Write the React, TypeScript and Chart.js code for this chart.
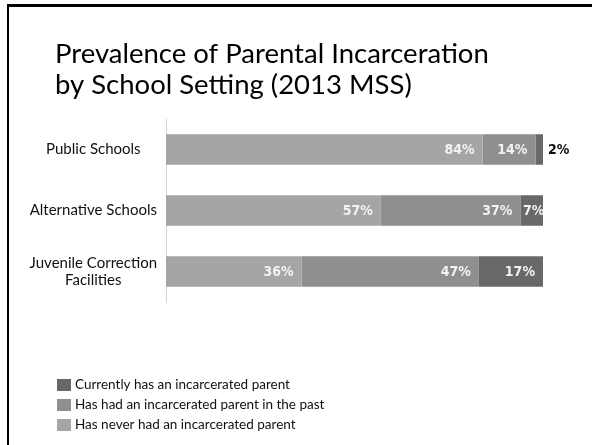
import React, { useEffect, useRef } from "react";
import { Chart, registerables } from "chart.js";

Chart.register(...registerables);

const categories: (string | string[])[] = [
  "Public Schools",
  "Alternative Schools",
  ["Juvenile Correction", "Facilities"],
];
const neverValues = [84, 57, 36];
const pastValues = [14, 37, 47];
const currentValues = [2, 7, 17];
const seriesLabels = [
  "Has never had an incarcerated parent",
  "Has had an incarcerated parent in the past",
  "Currently has an incarcerated parent",
];
const seriesColors = ["#a5a5a5", "#8f8f8f", "#686868"];
const titleLines = ["Prevalence of Parental Incarceration", "by School Setting (2013 MSS)"];

const segLabels = {
  id: "segLabels",
  afterDatasetsDraw(chart: any) {
    const ctx = chart.ctx;
    ctx.save();
    ctx.font = 'bold 14px "DejaVu Sans Condensed"';
    ctx.textBaseline = "middle";
    chart.data.datasets.forEach((ds: any, di: number) => {
      const meta = chart.getDatasetMeta(di);
      meta.data.forEach((bar: any, i: number) => {
        const v = ds.data[i];
        const text = v + "%";
        const p = bar.getProps(["x", "y", "base"], true);
        const w = p.x - p.base;
        const tw = ctx.measureText(text).width;
        if (w >= tw + 16) {
          ctx.fillStyle = "#f2f2f2";
          ctx.textAlign = "right";
          ctx.fillText(text, p.x - 8, p.y + 1);
        } else if (w >= tw + 2) {
          ctx.fillStyle = "#f2f2f2";
          ctx.textAlign = "center";
          ctx.fillText(text, (p.x + p.base) / 2, p.y + 1);
        } else {
          ctx.fillStyle = "#111111";
          ctx.textAlign = "left";
          ctx.fillText(text, p.x + 5, p.y + 1);
        }
      });
    });
    ctx.restore();
  },
};

const slideTitle = {
  id: "slideTitle",
  afterDraw(chart: any) {
    const ctx = chart.ctx;
    ctx.save();
    ctx.font = "27.5px Lato";
    ctx.fillStyle = "#000000";
    ctx.textAlign = "left";
    ctx.textBaseline = "alphabetic";
    titleLines.forEach((line, i) => {
      ctx.fillText(line, 55, 63 + i * 31);
    });
    ctx.restore();
  },
};

const vertLegend = {
  id: "vertLegend",
  afterDraw(chart: any) {
    const ctx = chart.ctx;
    ctx.save();
    ctx.font = "13.5px Lato";
    ctx.textBaseline = "middle";
    ctx.textAlign = "left";
    const ds = chart.data.datasets.slice().reverse();
    ds.forEach((d: any, i: number) => {
      const cy = 385 + i * 20;
      ctx.fillStyle = d.backgroundColor;
      ctx.fillRect(57, cy - 6, 14, 12);
      ctx.fillStyle = "#111111";
      ctx.fillText(d.label, 75, cy);
    });
    ctx.restore();
  },
};

export default function App() {
  const ref = useRef<HTMLCanvasElement | null>(null);
  useEffect(() => {
    if (!ref.current) return;
    const chart = new Chart(ref.current, {
      type: "bar",
      data: {
        labels: categories as any,
        datasets: [
          { label: seriesLabels[0], data: neverValues, backgroundColor: seriesColors[0] },
          { label: seriesLabels[1], data: pastValues, backgroundColor: seriesColors[1] },
          { label: seriesLabels[2], data: currentValues, backgroundColor: seriesColors[2] },
        ],
      },
      options: {
        indexAxis: "y",
        responsive: false,
        animation: false,
        devicePixelRatio: 1,
        layout: { padding: { left: 20, right: 49, top: 119, bottom: 143 } },
        datasets: { bar: { barPercentage: 0.5, categoryPercentage: 1 } },
        scales: {
          x: { stacked: true, min: 0, max: 100, display: false },
          y: {
            stacked: true,
            grid: { display: false, drawTicks: false },
            border: { display: true, color: "#d4d4d4", width: 1 },
            ticks: {
              crossAlign: "center",
              padding: 9,
              color: "#111111",
              font: { family: "Lato", size: 15, lineHeight: 1.15 },
            },
            afterFit: (s: any) => {
              s.width = 146;
            },
          },
        },
        plugins: {
          legend: { display: false },
          tooltip: { enabled: false },
          title: { display: false },
        },
      },
      plugins: [segLabels, slideTitle, vertLegend],
    });
    return () => chart.destroy();
  }, []);
  return (
    <div style={{ position: "fixed", left: 0, top: 0, width: 592, height: 445, background: "#fff", overflow: "hidden" }}>
      <canvas ref={ref} width={592} height={445} style={{ position: "absolute", left: 0, top: 0 }} />
      <div
        style={{
          position: "absolute",
          left: 7,
          top: 4,
          width: 600,
          height: 460,
          borderTop: "3px solid #000",
          borderLeft: "2px solid #000",
          pointerEvents: "none",
        }}
      />
    </div>
  );
}
